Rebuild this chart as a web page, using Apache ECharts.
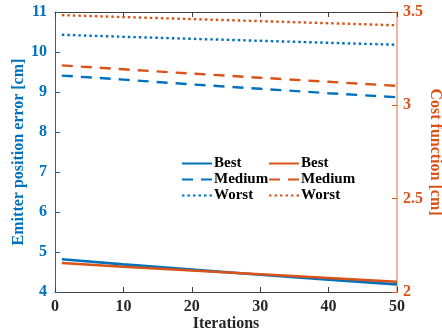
<!DOCTYPE html>
<html>
<head>
<meta charset="utf-8">
<script src="https://cdn.jsdelivr.net/npm/echarts@6/dist/echarts.min.js"></script>
<style>
    html, body { margin: 0; padding: 0; background: #fff; }
    #chart { width: 442px; height: 335px; }
</style>
</head>
<body>
<div id="chart"></div>
<script>
const iterations = [1, 10, 20, 30, 40, 50];

// left axis: emitter position error [cm]
const errBest = [4.82, 4.69, 4.56, 4.43, 4.31, 4.19];
const errMedium = [9.41, 9.31, 9.19, 9.08, 8.97, 8.87];
const errWorst = [10.43, 10.38, 10.33, 10.28, 10.23, 10.18];

// right axis: cost function [cm]
const costBest = [2.155, 2.135, 2.115, 2.095, 2.075, 2.055];
const costMedium = [3.214, 3.193, 3.170, 3.148, 3.126, 3.104];
const costWorst = [3.483, 3.473, 3.462, 3.451, 3.440, 3.429];

const blue = '#0072BD';
const orange = '#D95319';
const font = 'Liberation Serif';

const pairs = arr => iterations.map((x, i) => [x, arr[i]]);

const mkSeries = (name, data, color, type, yIndex) => ({
    name: name,
    type: 'line',
    yAxisIndex: yIndex,
    data: pairs(data),
    symbol: 'none',
    silent: true,
    lineStyle: {
        color: color,
        width: type === 'solid' ? 2.6 : 2.4,
        type: type === 'dashed' ? [11, 8] : (type === 'dotted' ? [2.5, 3] : 'solid')
    },
    itemStyle: { color: color }
});

const legendBase = {
    orient: 'vertical',
    top: 156,
    padding: 0,
    itemWidth: 30,
    itemHeight: 12,
    itemGap: 1,
    itemStyle: { opacity: 0 },
    textStyle: { fontFamily: font, fontWeight: 'bold', fontSize: 15, color: '#000', padding: [0, 0, 0, -3] },
    formatter: name => name.split('_')[0]
};

const option = {
    animation: false,
    backgroundColor: '#fff',
    grid: { left: 55, right: 45, top: 12, bottom: 43, outerBoundsMode: 'none' },
    legend: [
        Object.assign({}, legendBase, { left: 181, data: ['Best_L', 'Medium_L', 'Worst_L'] }),
        Object.assign({}, legendBase, { left: 268, data: ['Best_R', 'Medium_R', 'Worst_R'] })
    ],
    xAxis: [
        {
            type: 'value',
            min: 0, max: 50, interval: 10,
            name: 'Iterations',
            nameLocation: 'middle',
            nameGap: 24,
            nameMoveOverlap: false,
            nameTextStyle: { fontFamily: font, fontWeight: 'bold', fontSize: 16, color: '#262626' },
            axisLine: { onZero: false, lineStyle: { color: '#404040', width: 1 } },
            axisTick: { inside: true, length: 5, lineStyle: { color: '#404040' } },
            axisLabel: { fontFamily: font, fontWeight: 'bold', fontSize: 16, color: '#262626', margin: 7 },
            splitLine: { show: false }
        },
        {
            type: 'value',
            position: 'top',
            min: 0, max: 50, interval: 10,
            axisLine: { onZero: false, lineStyle: { color: '#404040', width: 1 } },
            axisTick: { inside: true, length: 5, lineStyle: { color: '#404040' } },
            axisLabel: { show: false },
            splitLine: { show: false }
        }
    ],
    yAxis: [
        {
            type: 'value',
            position: 'left',
            min: 4, max: 11, interval: 1,
            name: 'Emitter position error [cm]',
            nameLocation: 'middle',
            nameGap: 28,
            nameMoveOverlap: false,
            nameTextStyle: { fontFamily: font, fontWeight: 'bold', fontSize: 16, color: blue },
            axisLine: { show: true, onZero: false, lineStyle: { color: blue, width: 1 } },
            axisTick: { show: true, inside: true, length: 5, lineStyle: { color: blue } },
            axisLabel: { fontFamily: font, fontWeight: 'bold', fontSize: 16, color: blue, margin: 8 },
            splitLine: { show: false }
        },
        {
            type: 'value',
            min: 2, max: 3.5, interval: 0.5,
            position: 'right',
            name: 'Cost function [cm]',
            nameLocation: 'middle',
            nameGap: 30,
            nameMoveOverlap: false,
            nameRotate: -90,
            nameTextStyle: { fontFamily: font, fontWeight: 'bold', fontSize: 16, color: orange },
            axisLine: { show: true, onZero: false, lineStyle: { color: '#E8A080', width: 1.5 } },
            axisTick: { show: true, inside: true, length: 5, lineStyle: { color: orange } },
            axisLabel: { fontFamily: font, fontWeight: 'bold', fontSize: 16, color: orange, margin: 6 },
            splitLine: { show: false }
        }
    ],
    series: [
        mkSeries('Best_L', errBest, blue, 'solid', 0),
        mkSeries('Medium_L', errMedium, blue, 'dashed', 0),
        mkSeries('Worst_L', errWorst, blue, 'dotted', 0),
        mkSeries('Best_R', costBest, orange, 'solid', 1),
        mkSeries('Medium_R', costMedium, orange, 'dashed', 1),
        mkSeries('Worst_R', costWorst, orange, 'dotted', 1)
    ]
};

const chart = echarts.init(document.getElementById('chart'));
chart.setOption(option);
</script>
</body>
</html>
